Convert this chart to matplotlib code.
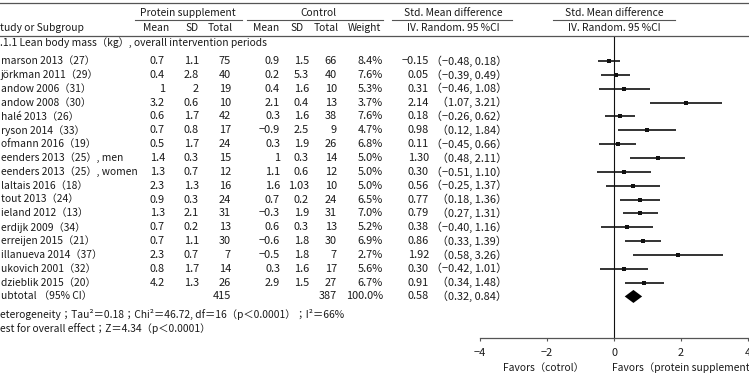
import matplotlib
matplotlib.use("Agg")
import matplotlib.pyplot as plt
from matplotlib.patches import Polygon

plt.rcParams['font.family'] = ['Noto Sans CJK JP', 'DejaVu Sans']

# ---------------- data ----------------
studies = ["marson 2013（27）", "jörkman 2011（29）", "andow 2006（31）", "andow 2008（30）",
           "halé 2013（26）", "ryson 2014（33）", "ofmann 2016（19）", "eenders 2013（25）, men",
           "eenders 2013（25）, women", "laltais 2016（18）", "tout 2013（24）", "ieland 2012（13）",
           "erdijk 2009（34）", "erreijen 2015（21）", "illanueva 2014（37）", "ukovich 2001（32）",
           "dzieblik 2015（20）"]
prot_mean = [0.7, 0.4, 1, 3.2, 0.6, 0.7, 0.5, 1.4, 1.3, 2.3, 0.9, 1.3, 0.7, 0.7, 2.3, 0.8, 4.2]
prot_sd = [1.1, 2.8, 2, 0.6, 1.7, 0.8, 1.7, 0.3, 0.7, 1.3, 0.3, 2.1, 0.2, 1.1, 0.7, 1.7, 1.3]
prot_n = [75, 40, 19, 10, 42, 17, 24, 15, 12, 16, 24, 31, 13, 30, 7, 14, 26]
ctrl_mean = [0.9, 0.2, 0.4, 2.1, 0.3, -0.9, 0.3, 1, 1.1, 1.6, 0.7, -0.3, 0.6, -0.6, -0.5, 0.3, 2.9]
ctrl_sd = [1.5, 5.3, 1.6, 0.4, 1.6, 2.5, 1.9, 0.3, 0.6, 1.03, 0.2, 1.9, 0.3, 1.8, 1.8, 1.6, 1.5]
ctrl_n = [66, 40, 10, 13, 38, 9, 26, 14, 12, 10, 24, 31, 13, 30, 7, 17, 27]
weight = [8.4, 7.6, 5.3, 3.7, 7.6, 4.7, 6.8, 5.0, 5.0, 5.0, 6.5, 7.0, 5.2, 6.9, 2.7, 5.6, 6.7]
smd = [-0.15, 0.05, 0.31, 2.14, 0.18, 0.98, 0.11, 1.30, 0.30, 0.56, 0.77, 0.79, 0.38, 0.86, 1.92, 0.30, 0.91]
ci_low = [-0.48, -0.39, -0.46, 1.07, -0.26, 0.12, -0.45, 0.48, -0.51, -0.25, 0.18, 0.27, -0.40, 0.33, 0.58, -0.42, 0.34]
ci_high = [0.18, 0.49, 1.08, 3.21, 0.62, 1.84, 0.66, 2.11, 1.10, 1.37, 1.36, 1.31, 1.16, 1.39, 3.26, 1.01, 1.48]
total_prot = 415
total_ctrl = 387
total_weight = 100.0
pooled = 0.58
pooled_low = 0.32
pooled_high = 0.84
xticks = [-4, -2, 0, 2, 4]

# ---------------- layout ----------------
W, H = 749, 374
fig = plt.figure(figsize=(W / 100, H / 100), dpi=100)
tab = fig.add_axes([0, 0, 1, 1])
tab.set_xlim(0, W)
tab.set_ylim(H, 0)
tab.axis('off')

FS = 7.4
FSN = 7.9
TC = '#1a1a1a'
LC = '#555555'
row0, dy = 61, 13.85


def fmt(v):
    return str(v).replace('-', '−')


def ytab(r):
    return row0 + dy * r


def t(x, y, s, ha='left', fs=FS):
    tab.text(x, y, s, ha=ha, va='center', fontsize=fs, color=TC)


# rules
tab.plot([0, W], [3, 3], color=LC, lw=0.9)
tab.plot([0, W], [36, 36], color=LC, lw=0.9)
for a, b in [(135, 242), (247, 383), (392, 512), (553, 675)]:
    tab.plot([a, b], [20, 20], color=LC, lw=0.8)

# headers
t(188, 13, "Protein supplement", 'center')
t(318, 13, "Control", 'center')
t(453, 13, "Std. Mean difference", 'center')
t(614, 13, "Std. Mean difference", 'center')
t(0, 28, "tudy or Subgroup")
t(156, 28, "Mean", 'center')
t(192, 28, "SD", 'center')
t(220, 28, "Total", 'center')
t(266, 28, "Mean", 'center')
t(297, 28, "SD", 'center')
t(326, 28, "Total", 'center')
t(364, 28, "Weight", 'center')
t(453, 28, "IV. Random. 95 %CI", 'center')
t(614, 28, "IV. Random. 95 %CI", 'center')

t(0, ytab(-1.3), ".1.1 Lean body mass（kg）, overall intervention periods")

for i, name in enumerate(studies):
    y = ytab(i)
    t(1, y, name)
    t(165, y, fmt(prot_mean[i]), 'right', FSN)
    t(199, y, fmt(prot_sd[i]), 'right', FSN)
    t(231, y, fmt(prot_n[i]), 'right', FSN)
    t(280, y, fmt(ctrl_mean[i]), 'right', FSN)
    t(309, y, fmt(ctrl_sd[i]), 'right', FSN)
    t(337, y, fmt(ctrl_n[i]), 'right', FSN)
    t(383, y, f"{weight[i]:.1f}%", 'right', FSN)
    t(429, y, f"{smd[i]:.2f}".replace('-', '−'), 'right', FSN)
    t(507, y, f"（{ci_low[i]:.2f}, {ci_high[i]:.2f}）".replace('-', '−'), 'right', FSN)

ys = ytab(len(studies))
t(1, ys, "ubtotal （95% CI）")
t(231, ys, str(total_prot), 'right', FSN)
t(337, ys, str(total_ctrl), 'right', FSN)
t(383, ys, f"{total_weight:.1f}%", 'right', FSN)
t(429, ys, f"{pooled:.2f}", 'right', FSN)
t(507, ys, f"（{pooled_low:.2f}, {pooled_high:.2f}）", 'right', FSN)

t(0, 314, "eterogeneity；Tau²＝0.18；Chi²＝46.72, df＝16（p＜0.0001）；I²＝66%")
t(0, 329, "est for overall effect；Z＝4.34（p＜0.0001）")

# ---------------- forest plot ----------------
x_left, x_right = 480, 748
y_top, y_bot = 37, 338
fax = fig.add_axes([x_left / W, (H - y_bot) / H, (x_right - x_left) / W, (y_bot - y_top) / H])
fax.patch.set_alpha(0)
fax.set_xlim(-4, 4)
r_top = (y_top - row0) / dy
r_bot = (y_bot - row0) / dy
fax.set_ylim(r_bot, r_top)
for s in ['top', 'left', 'right']:
    fax.spines[s].set_visible(False)
fax.spines['bottom'].set_color(LC)
fax.spines['bottom'].set_linewidth(0.9)
fax.set_yticks([])
fax.set_xticks(xticks)
fax.set_xticklabels([fmt(v) for v in xticks])
fax.tick_params(axis='x', direction='out', length=2.5, width=0.8, color=LC,
                labelsize=FSN, labelcolor=TC, pad=5)
fax.axvline(0, color='#111111', lw=0.8)

for i in range(len(studies)):
    fax.plot([ci_low[i], ci_high[i]], [i, i], color='#111111', lw=1.2, solid_capstyle='butt')
    fax.plot([smd[i]], [i], marker='s', ms=2.8, color='#111111', mew=0)

r = len(studies)
fax.add_patch(Polygon([(pooled_low, r), (pooled, r - 0.47), (pooled_high, r), (pooled, r + 0.47)],
                      closed=True, color='#000000', lw=0))

t(543, 368, "Favors（cotrol）", 'center')
t(612, 368, "Favors（protein supplement）")

fig.savefig("out.png", dpi=100)
